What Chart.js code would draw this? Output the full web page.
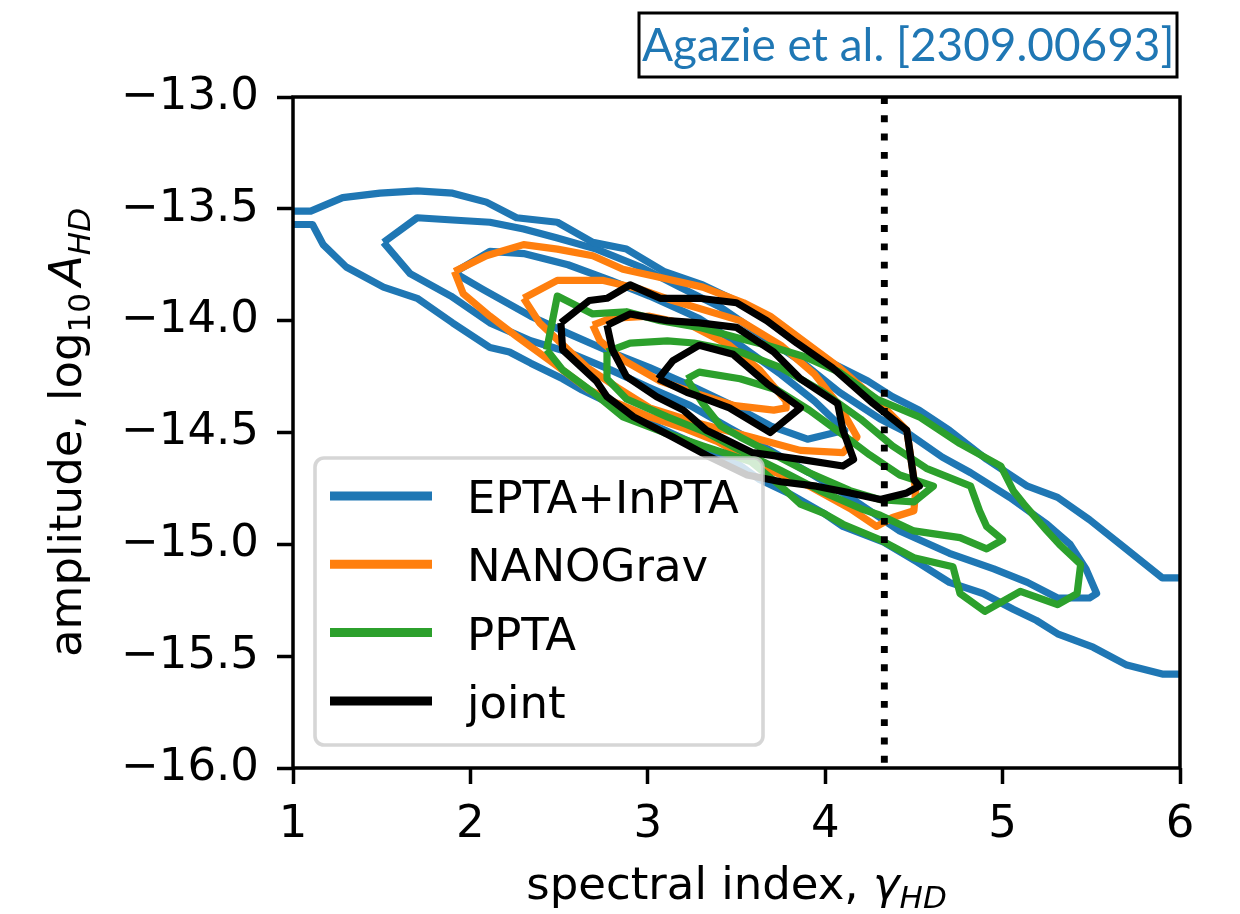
<!DOCTYPE html>
<html>
<head>
<meta charset="utf-8">
<script src="https://cdn.jsdelivr.net/npm/chart.js@4.4.1/dist/chart.umd.min.js"></script>
<style>
  html, body { margin: 0; padding: 0; background: #fff; }
  #wrap { width: 1240px; height: 914px; }
</style>
</head>
<body>
<div id="wrap"><canvas id="chart" width="1240" height="914"></canvas></div>
<script>
// PTA posteriors: spectral index vs log10 amplitude (HD correlated)

const X_TICKS = [1, 2, 3, 4, 5, 6];
const Y_TICKS = [-13.0, -13.5, -14.0, -14.5, -15.0, -15.5, -16.0];
const GAMMA_SMBHB = 13 / 3;

const SERIES_NAMES = ['EPTA+InPTA', 'NANOGrav', 'PPTA', 'joint'];
const SERIES_COLORS = ['#1f77b4', '#ff7f0e', '#2ca02c', '#000000'];

// EPTA+InPTA (outer level runs off both edges of the plot)
const eptaOuterTop = [[1.00,-13.51],[1.10,-13.51],[1.28,-13.45],[1.49,-13.43],[1.70,-13.42],[1.90,-13.43],[2.09,-13.47],[2.26,-13.54],[2.49,-13.56],[2.69,-13.65],[2.88,-13.68],[3.09,-13.78],[3.31,-13.84],[3.52,-13.92],[3.69,-14.00],[3.90,-14.13],[4.04,-14.19],[4.24,-14.27],[4.38,-14.34],[4.53,-14.40],[4.70,-14.49],[4.91,-14.62],[5.14,-14.74],[5.31,-14.79],[5.49,-14.89],[5.68,-15.01],[5.90,-15.15],[6.00,-15.15]];
const eptaOuterBottom = [[1.00,-13.57],[1.11,-13.57],[1.17,-13.66],[1.30,-13.76],[1.51,-13.85],[1.70,-13.90],[1.90,-14.01],[2.11,-14.12],[2.22,-14.14],[2.34,-14.19],[2.52,-14.26],[2.63,-14.31],[2.84,-14.39],[3.07,-14.48],[3.29,-14.56],[3.49,-14.63],[3.63,-14.71],[3.79,-14.77],[3.99,-14.86],[4.10,-14.92],[4.33,-14.99],[4.52,-15.08],[4.70,-15.17],[4.89,-15.22],[5.06,-15.29],[5.19,-15.34],[5.31,-15.40],[5.51,-15.46],[5.70,-15.54],[5.90,-15.58],[6.00,-15.58]];
const eptaMid = [[1.51,-13.65],[1.70,-13.54],[1.90,-13.55],[2.11,-13.56],[2.30,-13.59],[2.49,-13.63],[2.71,-13.68],[2.96,-13.76],[3.18,-13.85],[3.41,-13.94],[3.63,-14.06],[3.86,-14.18],[4.08,-14.32],[4.31,-14.44],[4.46,-14.50],[4.66,-14.61],[4.82,-14.68],[5.04,-14.79],[5.25,-14.91],[5.38,-15.00],[5.47,-15.11],[5.53,-15.22],[5.49,-15.24],[5.31,-15.24],[5.14,-15.17],[4.95,-15.11],[4.70,-15.04],[4.42,-14.94],[4.14,-14.79],[3.91,-14.68],[3.69,-14.58],[3.46,-14.48],[3.24,-14.38],[3.01,-14.30],[2.79,-14.22],[2.55,-14.14],[2.34,-14.09],[2.11,-14.01],[1.89,-13.89],[1.66,-13.79],[1.51,-13.65]];
const eptaInner = [[1.92,-13.78],[2.11,-13.69],[2.30,-13.70],[2.55,-13.75],[2.79,-13.82],[3.01,-13.89],[3.29,-13.99],[3.52,-14.11],[3.75,-14.24],[3.94,-14.36],[4.11,-14.49],[3.90,-14.53],[3.69,-14.47],[3.48,-14.38],[3.24,-14.29],[3.01,-14.21],[2.79,-14.14],[2.56,-14.06],[2.34,-13.98],[2.07,-13.86],[1.94,-13.80],[1.92,-13.78]];

// NANOGrav
const nanoOuter = [[1.91,-13.78],[2.09,-13.71],[2.30,-13.66],[2.49,-13.68],[2.69,-13.71],[2.86,-13.77],[3.09,-13.81],[3.31,-13.85],[3.54,-13.92],[3.69,-13.98],[3.86,-14.08],[4.08,-14.21],[4.31,-14.37],[4.46,-14.49],[4.51,-14.76],[4.50,-14.85],[4.38,-14.88],[4.29,-14.92],[4.14,-14.84],[3.91,-14.74],[3.69,-14.67],[3.39,-14.54],[3.20,-14.48],[3.01,-14.43],[2.83,-14.37],[2.67,-14.31],[2.45,-14.18],[2.26,-14.07],[2.11,-13.98],[1.96,-13.88],[1.91,-13.78]];
const nanoMid = [[2.30,-13.90],[2.49,-13.82],[2.75,-13.82],[2.96,-13.86],[3.14,-13.91],[3.52,-14.00],[3.75,-14.11],[3.94,-14.24],[4.08,-14.38],[4.18,-14.52],[4.10,-14.59],[3.86,-14.58],[3.58,-14.52],[3.29,-14.46],[3.01,-14.39],[2.83,-14.30],[2.66,-14.21],[2.55,-14.13],[2.39,-14.01],[2.30,-13.90]];
const nanoInner = [[2.69,-14.02],[2.79,-13.99],[3.01,-13.98],[3.24,-14.02],[3.46,-14.11],[3.63,-14.22],[3.78,-14.36],[3.78,-14.39],[3.71,-14.40],[3.49,-14.38],[3.29,-14.33],[3.07,-14.27],[2.87,-14.18],[2.73,-14.09],[2.69,-14.02]];

// PPTA
const pptaOuter = [[2.43,-14.13],[2.49,-13.89],[2.69,-13.97],[2.88,-13.96],[3.07,-14.00],[3.29,-14.03],[3.52,-14.08],[3.67,-14.11],[3.88,-14.16],[4.08,-14.23],[4.29,-14.35],[4.53,-14.43],[4.76,-14.55],[4.99,-14.65],[5.06,-14.76],[5.12,-14.82],[5.25,-14.94],[5.32,-15.00],[5.44,-15.09],[5.42,-15.22],[5.31,-15.27],[5.10,-15.21],[4.90,-15.30],[4.76,-15.22],[4.72,-15.10],[4.50,-15.06],[4.31,-14.98],[4.10,-14.91],[3.99,-14.86],[3.86,-14.82],[3.75,-14.74],[3.58,-14.63],[3.31,-14.56],[3.09,-14.50],[2.86,-14.43],[2.69,-14.32],[2.52,-14.22],[2.43,-14.13]];
const pptaMid = [[2.77,-14.14],[2.90,-14.10],[3.11,-14.09],[3.26,-14.10],[3.52,-14.14],[3.75,-14.21],[3.97,-14.31],[4.20,-14.44],[4.38,-14.56],[4.57,-14.66],[4.82,-14.74],[4.87,-14.85],[4.91,-14.92],[5.00,-14.98],[4.91,-15.02],[4.76,-14.97],[4.50,-14.94],[4.31,-14.87],[4.20,-14.84],[3.97,-14.76],[3.75,-14.67],[3.52,-14.58],[3.33,-14.50],[3.11,-14.43],[2.88,-14.35],[2.77,-14.26],[2.77,-14.14]];
const pptaInner = [[3.22,-14.26],[3.29,-14.23],[3.52,-14.26],[3.73,-14.31],[3.91,-14.40],[4.10,-14.51],[4.25,-14.60],[4.42,-14.69],[4.61,-14.74],[4.50,-14.81],[4.31,-14.80],[4.14,-14.76],[3.91,-14.68],[3.69,-14.59],[3.52,-14.52],[3.41,-14.47],[3.31,-14.37],[3.22,-14.26]];

// joint
const jointOuter = [[2.51,-14.01],[2.67,-13.91],[2.77,-13.90],[2.90,-13.84],[3.07,-13.90],[3.29,-13.90],[3.50,-13.92],[3.67,-14.00],[3.84,-14.10],[4.04,-14.21],[4.27,-14.37],[4.46,-14.49],[4.50,-14.71],[4.53,-14.74],[4.46,-14.77],[4.31,-14.80],[4.14,-14.77],[3.95,-14.74],[3.75,-14.72],[3.56,-14.69],[3.35,-14.61],[3.14,-14.52],[2.92,-14.43],[2.77,-14.34],[2.71,-14.27],[2.52,-14.13],[2.51,-14.01]];
const jointMid = [[2.77,-14.02],[2.90,-13.97],[3.11,-14.00],[3.29,-14.01],[3.50,-14.03],[3.71,-14.14],[3.86,-14.26],[4.07,-14.37],[4.10,-14.49],[4.16,-14.62],[4.10,-14.65],[3.86,-14.62],[3.59,-14.59],[3.41,-14.52],[3.33,-14.49],[3.20,-14.40],[3.05,-14.34],[2.88,-14.25],[2.80,-14.13],[2.77,-14.02]];
const jointInner = [[3.06,-14.26],[3.14,-14.18],[3.29,-14.11],[3.48,-14.15],[3.67,-14.28],[3.86,-14.39],[3.69,-14.50],[3.46,-14.39],[3.29,-14.34],[3.22,-14.32],[3.06,-14.26]];

const CONTOURS = [
    [eptaOuterTop, eptaOuterBottom, eptaMid, eptaInner],
    [nanoOuter, nanoMid, nanoInner],
    [pptaOuter, pptaMid, pptaInner],
    [jointOuter, jointMid, jointInner]
];

const FONT = '"DejaVu Sans", "Liberation Sans", sans-serif';
const LINE_W = 7.2;

const datasets = [];
CONTOURS.forEach((levels, s) => {
    levels.forEach(pts => {
        datasets.push({
            label: SERIES_NAMES[s],
            data: pts.map(([x, y]) => ({ x, y })),
            showLine: true,
            borderColor: SERIES_COLORS[s],
            borderWidth: LINE_W,
            borderJoinStyle: 'round',
            pointRadius: 0,
            tension: 0,
            order: 10 - s
        });
    });
});
// gamma = 13/3 reference line, on top of everything
datasets.push({
    label: 'gamma13/3',
    data: [{ x: GAMMA_SMBHB, y: -13 }, { x: GAMMA_SMBHB, y: -16 }],
    showLine: true,
    borderColor: '#000',
    borderWidth: 6.9,
    borderDash: [6.9, 11.4],
    borderCapStyle: 'butt',
    pointRadius: 0,
    order: 0
});

// draws rich text (italic / subscript pieces) centred on 0
function drawRich(ctx, parts, size) {
    const fontOf = p => (p.it ? 'italic ' : '') + Math.round(p.sub ? size * 0.7 : size) + 'px ' + FONT;
    let total = 0;
    const widths = parts.map(p => {
        ctx.font = fontOf(p);
        const w = ctx.measureText(p.t).width + (p.gap || 0);
        total += w;
        return w;
    });
    let x = -total / 2;
    parts.forEach((p, i) => {
        ctx.font = fontOf(p);
        ctx.fillText(p.t, x + (p.gap || 0), p.sub ? size * 0.2 : 0);
        x += widths[i];
    });
}

const decorations = {
    id: 'decorations',
    afterDatasetsDraw(chart) {
        const { ctx, chartArea: a } = chart;
        ctx.save();
        ctx.strokeStyle = '#000';
        ctx.lineWidth = 3.5;
        ctx.strokeRect(a.left, a.top, a.right - a.left, a.bottom - a.top);
        ctx.restore();
    },
    afterDraw(chart) {
        const { ctx, chartArea: a } = chart;
        ctx.save();

        // legend box
        const lx = 315, ly = 458, lw = 448, lh = 287, r = 9;
        ctx.beginPath();
        ctx.roundRect(lx, ly, lw, lh, r);
        ctx.fillStyle = 'rgba(255,255,255,0.8)';
        ctx.fill();
        ctx.lineWidth = 3.6;
        ctx.strokeStyle = 'rgba(204,204,204,0.8)';
        ctx.stroke();

        ctx.font = '45px ' + FONT;
        ctx.textBaseline = 'alphabetic';
        ctx.textAlign = 'left';
        SERIES_NAMES.forEach((name, i) => {
            const y = 496 + i * 68.3;
            ctx.beginPath();
            ctx.moveTo(330, y);
            ctx.lineTo(432, y);
            ctx.strokeStyle = SERIES_COLORS[i];
            ctx.lineWidth = 9;
            ctx.lineCap = 'butt';
            ctx.stroke();
            ctx.fillStyle = '#000';
            ctx.fillText(name, 467, y + 17);
        });

        // axis titles
        ctx.fillStyle = '#000';
        ctx.save();
        ctx.translate((a.left + a.right) / 2, 899);
        drawRich(ctx, [
            { t: 'spectral index, ' },
            { t: 'γ', it: true },
            { t: 'HD', it: true, sub: true }
        ], 45);
        ctx.restore();

        ctx.save();
        ctx.translate(81, (a.top + a.bottom) / 2);
        ctx.rotate(-Math.PI / 2);
        drawRich(ctx, [
            { t: 'amplitude, log' },
            { t: '10', sub: true },
            { t: 'A', it: true, gap: 7 },
            { t: 'HD', it: true, sub: true }
        ], 45);
        ctx.restore();

        // citation box
        const text = 'Agazie et al. [2309.00693]';
        let fs = 48;
        ctx.font = fs + 'px Lato, "Open Sans", sans-serif';
        const w = ctx.measureText(text).width;
        fs = Math.min(52, fs * 532 / w);
        ctx.font = fs.toFixed(1) + 'px Lato, "Open Sans", sans-serif';
        ctx.fillStyle = '#1f77b4';
        ctx.fillText(text, 642, 61);
        ctx.strokeStyle = '#000';
        ctx.lineWidth = 3;
        ctx.strokeRect(639, 13, 538, 64);

        ctx.restore();
    }
};

const tickFont = { family: FONT, size: 45 };

new Chart(document.getElementById('chart'), {
    type: 'scatter',
    data: { datasets },
    options: {
        responsive: false,
        devicePixelRatio: 1,
        animation: false,
        layout: { padding: { left: 0, top: 97, right: 60, bottom: 0 } },
        scales: {
            x: {
                type: 'linear',
                min: 1,
                max: 6,
                afterBuildTicks: s => { s.ticks = X_TICKS.map(v => ({ value: v })); },
                afterFit: s => { s.height = 146; },
                ticks: {
                    font: tickFont,
                    color: '#000',
                    padding: 14,
                    maxRotation: 0,
                    autoSkip: false,
                    callback: v => String(v)
                },
                grid: { drawOnChartArea: false, tickLength: 16, tickWidth: 3.5, tickColor: '#000' },
                border: { display: false }
            },
            y: {
                type: 'linear',
                min: -16,
                max: -13,
                afterBuildTicks: s => { s.ticks = Y_TICKS.map(v => ({ value: v })); },
                afterFit: s => { s.width = 293; },
                ticks: {
                    font: tickFont,
                    color: '#000',
                    padding: 18,
                    autoSkip: false,
                    callback: v => '\u2212' + Math.abs(v).toFixed(1)
                },
                grid: { drawOnChartArea: false, tickLength: 16, tickWidth: 3.5, tickColor: '#000' },
                border: { display: false }
            }
        },
        plugins: {
            legend: { display: false },
            tooltip: { enabled: false }
        }
    },
    plugins: [decorations]
});
</script>
</body>
</html>
